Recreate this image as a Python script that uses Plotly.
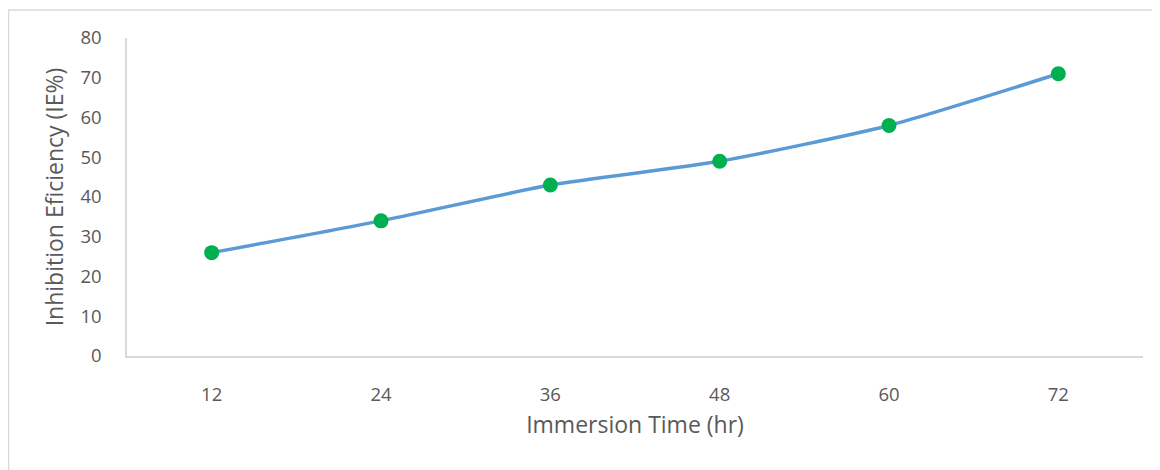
import plotly.graph_objects as go

times = ["12", "24", "36", "48", "60", "72"]
efficiency = [26, 34, 43, 49, 58, 71]
y_ticks = [0, 10, 20, 30, 40, 50, 60, 70, 80]

FONT = "'Open Sans', Lato, sans-serif"
GREY = "#595959"

# page body has an 8px default margin, so figure coordinates are offset by 8px
L, T, R, B = 119, 30, 25, 122
W, H = 1160, 470
PW, PH = W - L - R, H - T - B

fig = go.Figure()
fig.add_trace(go.Scatter(
    x=times, y=efficiency, mode="lines+markers",
    line=dict(color="#5B9BD5", width=3.5, shape="spline", smoothing=0.6),
    marker=dict(color="#00B050", size=15),
    showlegend=False, cliponaxis=False,
))

fig.update_layout(
    width=W, height=H,
    margin=dict(l=L, r=R, t=T, b=B),
    paper_bgcolor="white", plot_bgcolor="white",
    font=dict(family=FONT, color=GREY, size=18),
    xaxis=dict(
        type="category", range=[-0.5, 5.5],
        showline=True, linecolor="#D9D9D9", linewidth=1.5,
        showgrid=False, zeroline=False, ticks="",
        ticklabelstandoff=21,
        tickfont=dict(size=18.5, color=GREY),
        title=dict(text="Immersion Time (hr)", font=dict(size=23, color=GREY), standoff=12),
    ),
    yaxis=dict(
        range=[0, 80], tickvals=y_ticks,
        showline=True, linecolor="#D9D9D9", linewidth=1.5,
        showgrid=False, zeroline=False, ticks="",
        ticklabelstandoff=20,
        tickfont=dict(size=18.5, color=GREY),
        title=dict(text="Inhibition Eficiency (IE%)", font=dict(size=23, color=GREY), standoff=10),
    ),
    shapes=[dict(
        type="rect", xref="paper", yref="paper",
        x0=(0.5 - L) / PW, x1=(W + 20 - L) / PW,
        y0=-(H + 20 - (T + PH)) / PH, y1=(T + PH - 2) / PH,
        line=dict(color="#D9D9D9", width=1.5), fillcolor="rgba(0,0,0,0)", layer="below",
    )],
)

fig.write_html("out.html")
